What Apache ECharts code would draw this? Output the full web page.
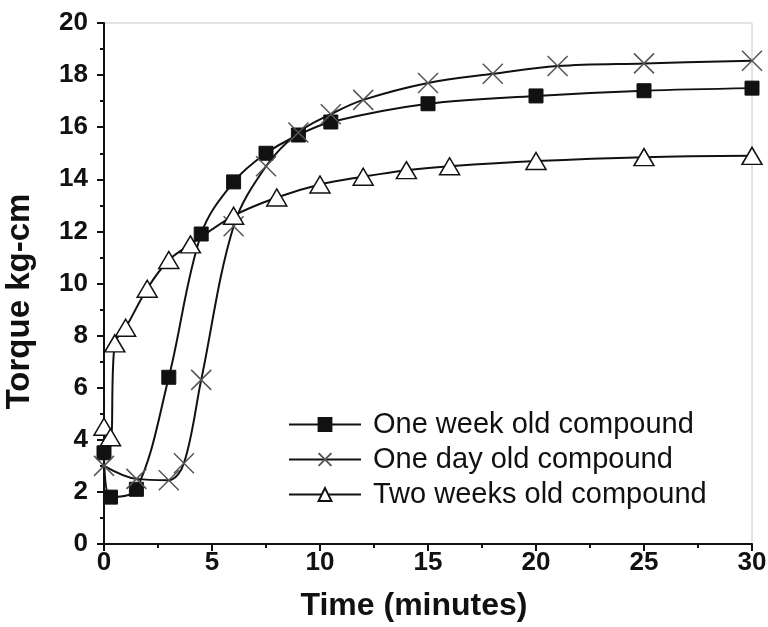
<!DOCTYPE html>
<html><head><meta charset="utf-8">
<script src="https://cdn.jsdelivr.net/npm/echarts@6/dist/echarts.min.js"></script>
<style>html,body{margin:0;padding:0;background:#fff}#c{width:768px;height:627px}</style>
</head><body><div id="c"></div>
<script>
const weekX = [0, 0.3, 1.5, 3, 4.5, 6, 7.5, 9, 10.5, 15, 20, 25, 30];
const weekY = [3.5, 1.8, 2.1, 6.4, 11.9, 13.9, 15.0, 15.7, 16.2, 16.9, 17.2, 17.4, 17.5];
const dayX = [0, 1.5, 3, 3.7, 4.5, 6, 7.5, 9, 10.5, 12, 15, 18, 21, 25, 30];
const dayY = [3.0, 2.5, 2.45, 3.1, 6.3, 12.2, 14.5, 15.8, 16.5, 17.05, 17.7, 18.05, 18.35, 18.45, 18.55];
const twoX = [0, 0.3, 0.5, 1, 2, 3, 4, 6, 8, 10, 12, 14, 16, 20, 25, 30];
const twoY = [4.5, 4.1, 7.7, 8.3, 9.8, 10.9, 11.5, 12.6, 13.3, 13.8, 14.1, 14.35, 14.5, 14.7, 14.85, 14.9];
const seriesNames = ['One week old compound', 'One day old compound', 'Two weeks old compound'];
const xTitle = 'Time (minutes)';
const yTitle = 'Torque kg-cm';

const pair = (xs, ys) => xs.map((x, i) => [x, ys[i]]);
const FONT = '"Liberation Sans", Arial, sans-serif';
const chart = echarts.init(document.getElementById('c'), null, {renderer: 'canvas'});
chart.setOption({
  animation: false,
  backgroundColor: '#fff',
  grid: {left: 104, right: 16, top: 23, bottom: 83, show: true, borderColor: '#c8c8c8', borderWidth: 1,
         outerBoundsMode: 'none', containLabel: false},
  legend: {
    orient: 'vertical', left: 283, top: 404, itemGap: 4, itemWidth: 72, itemHeight: 16,
    textStyle: {fontFamily: FONT, fontSize: 29, lineHeight: 31, color: '#111', padding: [0, 0, 0, 7]},
    data: seriesNames
  },
  xAxis: {
    type: 'value', min: 0, max: 30, interval: 5,
    name: xTitle, nameLocation: 'middle', nameGap: 46,
    nameTextStyle: {fontFamily: FONT, fontSize: 32, fontWeight: 'bold', color: '#111', padding: [0, 28, 0, 0]},
    axisLine: {lineStyle: {color: '#111', width: 2}},
    axisTick: {inside: false, length: 7, lineStyle: {width: 2, color: '#111'}},
    minorTick: {show: true, splitNumber: 2, length: 4, lineStyle: {width: 2, color: '#111'}},
    splitLine: {show: false},
    axisLabel: {fontFamily: FONT, fontSize: 26, fontWeight: 'bold', color: '#111', margin: 6}
  },
  yAxis: {
    type: 'value', min: 0, max: 20, interval: 2,
    name: yTitle, nameLocation: 'middle', nameGap: 68, nameRotate: 90,
    nameTextStyle: {fontFamily: FONT, fontSize: 33, fontWeight: 'bold', color: '#111', padding: [0, 36, 0, 0]},
    axisLine: {lineStyle: {color: '#111', width: 2}},
    axisTick: {inside: false, length: 7, lineStyle: {width: 2, color: '#111'}},
    minorTick: {show: true, splitNumber: 2, length: 4, lineStyle: {width: 2, color: '#111'}},
    splitLine: {show: false},
    axisLabel: {fontFamily: FONT, fontSize: 26, fontWeight: 'bold', color: '#111', margin: 16}
  },
  series: [
    {
      name: seriesNames[0], type: 'line', data: pair(weekX, weekY), smooth: 0.35,
      symbol: 'rect', symbolSize: 14, showAllSymbol: true,
      lineStyle: {color: '#111', width: 2},
      itemStyle: {color: '#111', borderColor: '#111', borderWidth: 1}
    },
    {
      name: seriesNames[1], type: 'line', data: pair(dayX, dayY), smooth: 0.35,
      symbol: 'path://M0,0L10,10M10,0L0,10', symbolSize: 20, showAllSymbol: true,
      lineStyle: {color: '#111', width: 2},
      itemStyle: {color: 'rgba(0,0,0,0)', borderColor: '#555', borderWidth: 1.5}
    },
    {
      name: seriesNames[2], type: 'line', data: pair(twoX, twoY), smooth: 0.35,
      symbol: 'triangle', symbolSize: [20, 17], showAllSymbol: true,
      lineStyle: {color: '#111', width: 2},
      itemStyle: {color: '#fff', borderColor: '#111', borderWidth: 1.5}
    }
  ]
});
</script></body></html>
